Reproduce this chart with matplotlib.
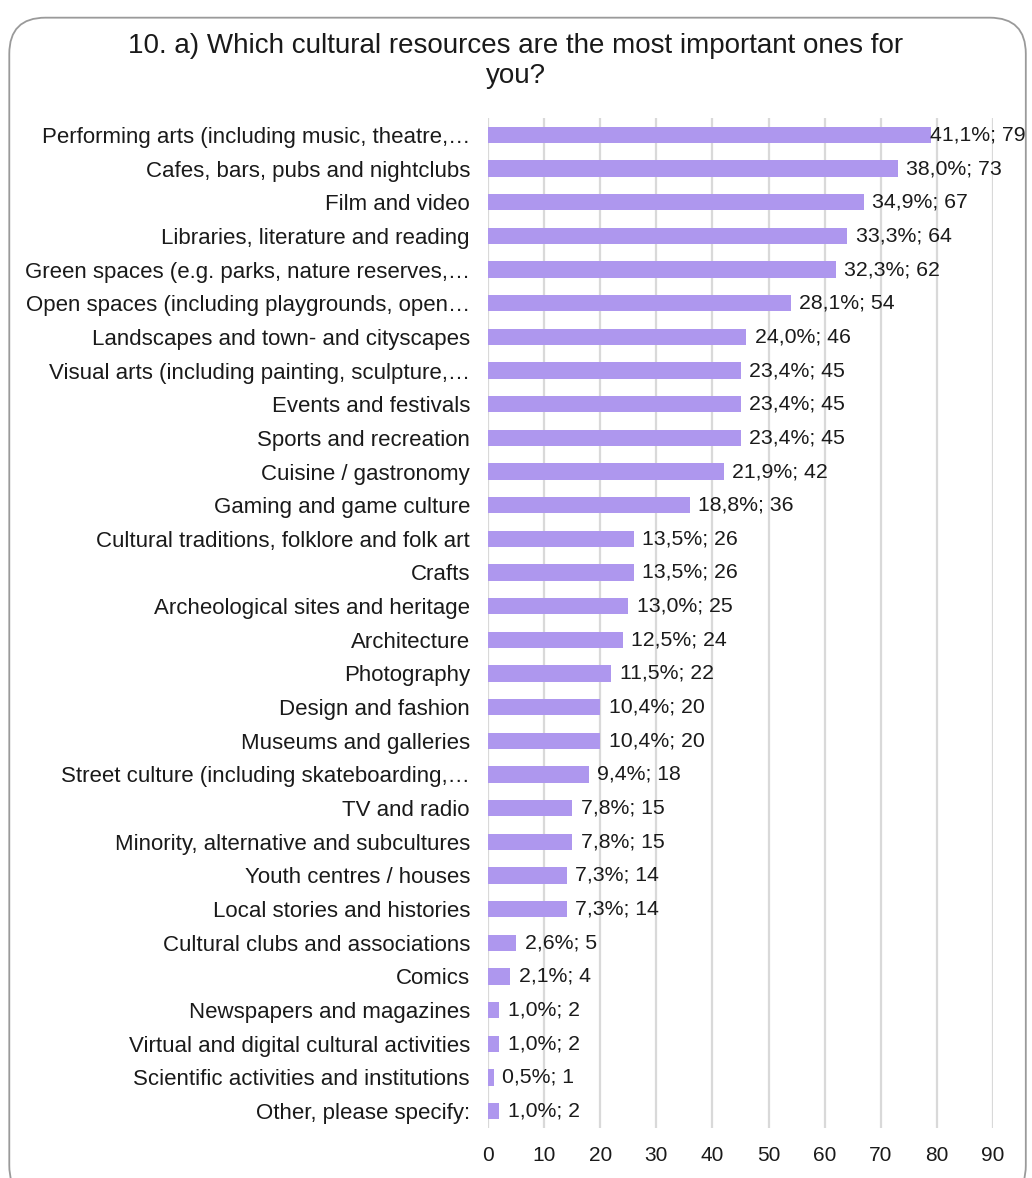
import matplotlib.pyplot as plt
from matplotlib.patches import FancyBboxPatch

plt.rcParams['font.family'] = ['Liberation Sans', 'DejaVu Sans']

categories = [
    "Performing arts (including music, theatre,\u2026",
    "Cafes, bars, pubs and nightclubs",
    "Film and video",
    "Libraries, literature and reading",
    "Green spaces (e.g. parks, nature reserves,\u2026",
    "Open spaces (including playgrounds, open\u2026",
    "Landscapes and town- and cityscapes",
    "Visual arts (including painting, sculpture,\u2026",
    "Events and festivals",
    "Sports and recreation",
    "Cuisine / gastronomy",
    "Gaming and game culture",
    "Cultural traditions, folklore and folk art",
    "Crafts",
    "Archeological sites and heritage",
    "Architecture",
    "Photography",
    "Design and fashion",
    "Museums and galleries",
    "Street culture (including skateboarding,\u2026",
    "TV and radio",
    "Minority, alternative and subcultures",
    "Youth centres / houses",
    "Local stories and histories",
    "Cultural clubs and associations",
    "Comics",
    "Newspapers and magazines",
    "Virtual and digital cultural activities",
    "Scientific activities and institutions",
    "Other, please specify:",
]
counts = [79, 73, 67, 64, 62, 54, 46, 45, 45, 45, 42, 36, 26, 26, 25, 24,
          22, 20, 20, 18, 15, 15, 14, 14, 5, 4, 2, 2, 1, 2]
percents = ["41,1%", "38,0%", "34,9%", "33,3%", "32,3%", "28,1%", "24,0%",
            "23,4%", "23,4%", "23,4%", "21,9%", "18,8%", "13,5%", "13,5%",
            "13,0%", "12,5%", "11,5%", "10,4%", "10,4%", "9,4%", "7,8%",
            "7,8%", "7,3%", "7,3%", "2,6%", "2,1%", "1,0%", "1,0%", "0,5%",
            "1,0%"]
xticks = list(range(0, 100, 10))

fig = plt.figure(figsize=(10.32, 11.78), dpi=100)

# rounded frame around the whole chart
frame = FancyBboxPatch((0.009, -0.02), 0.985, 1.005, transform=fig.transFigure,
                       boxstyle="round,pad=0,rounding_size=0.035",
                       facecolor='none', edgecolor='#9a9a9a', linewidth=1.3,
                       mutation_aspect=1032 / 1178)
fig.patches.append(frame)

ax = fig.add_axes([0.4729, 0.0425, 0.4893, 0.8573])
y = list(range(len(categories)))
ax.barh(y, counts, height=0.48, color='#ae97ee', zorder=2)
for yi, c, p in zip(y, counts, percents):
    # labels that would run past the plot edge are pulled back onto the bar
    x0 = c + 1.5 if c < 75 else c - 0.3
    ax.text(x0, yi, f"{p}; {c}", va='center', ha='left', fontsize=15.3,
            color='#1a1a1a', zorder=3)

ax.set_ylim(len(categories) - 0.5, -0.5)
ax.set_xlim(0, 90)
ax.set_xticks(xticks)
ax.set_yticks(y)
ax.set_yticklabels(categories, fontsize=16, color='#1a1a1a')
ax.tick_params(axis='y', length=0, pad=13)
ax.tick_params(axis='x', length=0, pad=13, labelsize=15, labelcolor='#1a1a1a')
ax.grid(axis='x', color='#d9d9d9', linewidth=1.6, zorder=0)
ax.set_axisbelow(True)
for s in ax.spines.values():
    s.set_visible(False)
ax.patch.set_alpha(0)

fig.text(0.5, 0.972, "10. a) Which cultural resources are the most important ones for\nyou?",
         ha='center', va='top', fontsize=20, color='#1a1a1a', linespacing=1.2)

fig.savefig('out.png', dpi=100)
